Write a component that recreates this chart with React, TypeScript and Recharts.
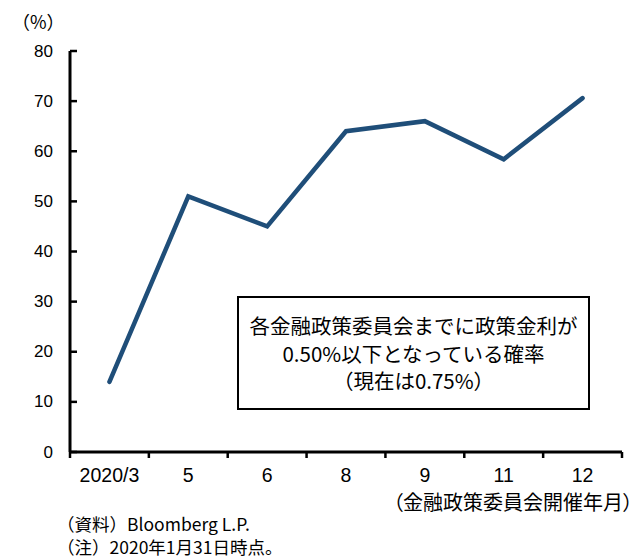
import { Line, LineChart, XAxis, YAxis } from "recharts";

const meetings = ["2020/3", "5", "6", "8", "9", "11", "12"];
const probability = [14, 51, 45, 64, 66, 58.4, 70.6];
const yTicks = [0, 10, 20, 30, 40, 50, 60, 70, 80];

const boxLines = [
  "各金融政策委員会までに政策金利が",
  "0.50%以下となっている確率",
  "（現在は0.75%）",
];
const unitLabel = "（%）";
const xTitle = "（金融政策委員会開催年月）";
const notes = ["（資料）Bloomberg L.P.", "（注）2020年1月31日時点。"];

const data = meetings.map((m, i) => ({ month: m, value: probability[i] }));

const W = 636;
const H = 558;
// axis line sits at x=70, y=452
const Y_W = 40;
const X_H = 40;
const M = { top: 51, right: 14, bottom: 106 - X_H, left: 70 - Y_W };
const BAND = (W - 70 - M.right) / meetings.length;

const JP = '"Noto Sans CJK JP", "Noto Sans", sans-serif';
const NUM = '"Liberation Sans", Arial, sans-serif';

function YTick(props: any) {
  const { x, y, payload } = props;
  return (
    <g>
      <line x1={x} x2={x + 7} y1={y} y2={y} stroke="#000" strokeWidth={2.5} />
      <text
        x={x - 17}
        y={y}
        textAnchor="end"
        dominantBaseline="central"
        fontFamily={NUM}
        fontSize={17}
        fill="#000"
      >
        {payload.value}
      </text>
    </g>
  );
}

function XTick(props: any) {
  const { x, y, payload, index } = props;
  const left = x - BAND / 2;
  return (
    <g>
      <line x1={left} x2={left} y1={y} y2={y + 6} stroke="#000" strokeWidth={2.5} />
      {index === meetings.length - 1 && (
        <line x1={x + BAND / 2} x2={x + BAND / 2} y1={y} y2={y + 6} stroke="#000" strokeWidth={2.5} />
      )}
      <text
        x={x}
        y={y + 23}
        textAnchor="middle"
        dominantBaseline="central"
        fontFamily={NUM}
        fontSize={19.5}
        fill="#000"
      >
        {payload.value}
      </text>
    </g>
  );
}

export default function App() {
  return (
    <div style={{ position: "absolute", left: 0, top: 0, width: W, height: H, background: "#fff", overflow: "hidden" }}>
      <LineChart width={W} height={H} data={data} margin={M}>
        <XAxis
          dataKey="month"
          scale="band"
          height={X_H}
          tickSize={0}
          tickMargin={0}
          interval={0}
          axisLine={{ stroke: "#000", strokeWidth: 3 }}
          tickLine={false}
          tick={(p: any) => <XTick {...p} />}
        />
        <YAxis
          width={Y_W}
          domain={[0, 80]}
          ticks={yTicks}
          tickSize={0}
          tickMargin={0}
          interval={0}
          axisLine={{ stroke: "#000", strokeWidth: 3 }}
          tickLine={false}
          tick={(p: any) => <YTick {...p} />}
        />
        <Line
          type="linear"
          dataKey="value"
          stroke="#1f4e79"
          strokeWidth={4.5}
          strokeLinecap="round"
          dot={false}
          activeDot={false}
          isAnimationActive={false}
        />
      </LineChart>

      <div
        style={{
          position: "absolute",
          left: 12,
          top: 8,
          fontFamily: JP,
          fontSize: 18,
          lineHeight: "26px",
          color: "#000",
        }}
      >
        {unitLabel}
      </div>

      <div
        style={{
          position: "absolute",
          left: 237,
          top: 296,
          width: 353,
          height: 114,
          boxSizing: "border-box",
          border: "2px solid #000",
          background: "#fff",
          paddingTop: 14,
          textAlign: "center",
          fontFamily: JP,
          fontSize: 20.5,
          lineHeight: "27.5px",
          color: "#000",
          whiteSpace: "nowrap",
        }}
      >
        {boxLines.map((t) => (
          <div key={t}>{t}</div>
        ))}
      </div>

      <div
        style={{
          position: "absolute",
          right: 3,
          top: 492,
          fontFamily: JP,
          fontSize: 20,
          lineHeight: "20px",
          color: "#000",
          whiteSpace: "nowrap",
          fontFeatureSettings: '"palt"',
        }}
      >
        {xTitle}
      </div>

      {notes.map((t, i) => (
        <div
          key={t}
          style={{
            position: "absolute",
            left: 57,
            top: 515 + i * 23,
            fontFamily: JP,
            fontSize: 17.5,
            lineHeight: "18px",
            color: "#000",
            whiteSpace: "nowrap",
          }}
        >
          {t}
        </div>
      ))}
    </div>
  );
}
